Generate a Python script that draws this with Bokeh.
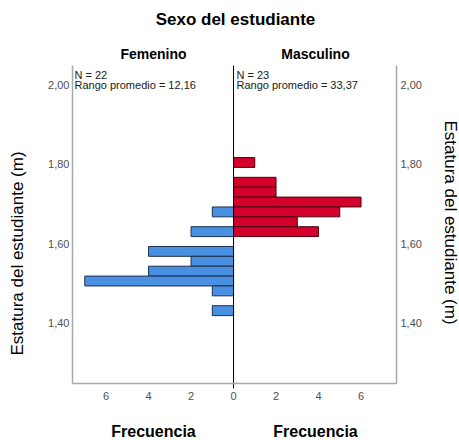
import math
from bokeh.plotting import figure
from bokeh.models import Label, LinearAxis, FixedTicker, Range1d
from bokeh.embed import file_html
from bokeh.resources import INLINE

# ---- data ----
bin_centers = [1.805, 1.78, 1.755, 1.73, 1.705, 1.68, 1.655, 1.63,
               1.605, 1.58, 1.555, 1.53, 1.505, 1.48, 1.455, 1.43]
male_counts = [1, 0, 2, 2, 6, 5, 3, 4, 0, 0, 0, 0, 0, 0, 0, 0]
female_counts = [0, 0, 0, 0, 0, 1, 0, 2, 0, 4, 2, 4, 7, 1, 0, 1]
bin_width = 0.025
y_ticks = [1.40, 1.60, 1.80, 2.00]
y_tick_labels = ["1,40", "1,60", "1,80", "2,00"]
x_ticks = [-6, -4, -2, 0, 2, 4, 6]
x_tick_labels = ["6", "4", "2", "0", "2", "4", "6"]
groups = ["Femenino", "Masculino"]
n_values = [22, 23]
mean_ranks = ["12,16", "33,37"]
title_text = "Sexo del estudiante"
y_title = "Estatura del estudiante (m)"
x_title = "Frecuencia"

# data window of the plot area
x_lo, x_hi = -7.58, 7.67
y_lo, y_hi = 1.2456, 2.0506

W, H = 459, 440
# pixel box of the plot area inside the canvas
box_l, box_r, box_t, box_b = 72, 396, 65, 383
sx = (box_r - box_l) / (x_hi - x_lo)
sy = (box_b - box_t) / (y_hi - y_lo)
xr = Range1d(x_lo - box_l / sx, x_hi + (W - box_r) / sx)
yr_ = Range1d(y_lo - (H - box_b) / sy, y_hi + box_t / sy)

FONT = "Liberation Sans"
BLUE = "#4a90e2"
RED = "#d2002b"
AXIS_GRAY = "#a8a8a8"

p = figure(width=W, height=H, x_range=xr, y_range=yr_,
           output_backend="svg", toolbar_location=None,
           min_border=0, min_border_left=0, min_border_right=0,
           min_border_top=0, min_border_bottom=0)
p.xgrid.visible = False
p.ygrid.visible = False
p.outline_line_color = None
p.background_fill_color = "white"
p.border_fill_color = "white"


def style_axis(ax, standoff):
    ax.axis_line_color = AXIS_GRAY
    ax.axis_line_width = 1.5
    ax.major_tick_line_color = None
    ax.minor_tick_line_color = None
    ax.major_tick_out = 0
    ax.major_tick_in = 0
    ax.minor_tick_out = 0
    ax.minor_tick_in = 0
    ax.major_label_standoff = standoff
    ax.major_label_text_font = FONT
    ax.major_label_text_font_size = "11px"
    ax.major_label_text_color = "#505050"


# left axis
yl = p.yaxis[0]
yl.ticker = FixedTicker(ticks=y_ticks)
yl.major_label_overrides = {t: s for t, s in zip(y_ticks, y_tick_labels)}
yl.fixed_location = x_lo
yl.bounds = (y_lo, y_hi)
style_axis(yl, 3)

# right axis
yr = LinearAxis(ticker=FixedTicker(ticks=y_ticks))
yr.major_label_overrides = {t: s for t, s in zip(y_ticks, y_tick_labels)}
yr.fixed_location = x_hi
yr.bounds = (y_lo, y_hi)
style_axis(yr, 4)
p.add_layout(yr, "right")

# bottom axis
xb = p.xaxis[0]
xb.ticker = FixedTicker(ticks=x_ticks)
xb.major_label_overrides = {t: s for t, s in zip(x_ticks, x_tick_labels)}
xb.fixed_location = y_lo
xb.bounds = (x_lo, x_hi)
style_axis(xb, 8)

# bars
fy = [c for c, n in zip(bin_centers, female_counts) if n > 0]
fl = [-n for n in female_counts if n > 0]
my = [c for c, n in zip(bin_centers, male_counts) if n > 0]
mr = [n for n in male_counts if n > 0]
p.hbar(y=fy, left=fl, right=0, height=bin_width,
       fill_color=BLUE, line_color="#1e2e4a", line_width=1)
p.hbar(y=my, left=0, right=mr, height=bin_width,
       fill_color=RED, line_color="#4a0010", line_width=1)

# center line between the two panels
p.segment(x0=[0], y0=[y_lo - 5 / sy], x1=[0], y1=[y_hi],
          line_color="black", line_width=1)


def lab(text, px, py, size="11px", bold=False, align="left",
        baseline="middle", angle=0.0, color="black"):
    # px, py: position in canvas pixels from the top-left corner
    p.add_layout(Label(text=text, x=px, y=H - py, x_units="screen", y_units="screen",
                       text_font=FONT, text_font_size=size,
                       text_font_style="bold" if bold else "normal",
                       text_align=align, text_baseline=baseline,
                       angle=angle, text_color=color))


# title and panel headers
lab(title_text, 235, 19, size="17px", bold=True, align="center")
lab(groups[0], 153, 53, size="14px", bold=True, align="center")
lab(groups[1], 315, 53, size="14px", bold=True, align="center")

# N / mean rank annotations
lab(f"N = {n_values[0]}", 74, 74, color="#202020")
lab(f"Rango promedio = {mean_ranks[0]}", 74, 84.5, color="#202020")
lab(f"N = {n_values[1]}", 236, 74, color="#202020")
lab(f"Rango promedio = {mean_ranks[1]}", 236, 84.5, color="#202020")

# axis titles
lab(y_title, 17, 253, size="17px", align="center", angle=math.pi / 2)
lab(y_title, 450, 222, size="17px", align="center", angle=-math.pi / 2)
lab(x_title, 153, 431, size="16px", bold=True, align="center")
lab(x_title, 315, 431, size="16px", bold=True, align="center")

open("out.html", "w").write(file_html(p, INLINE))
